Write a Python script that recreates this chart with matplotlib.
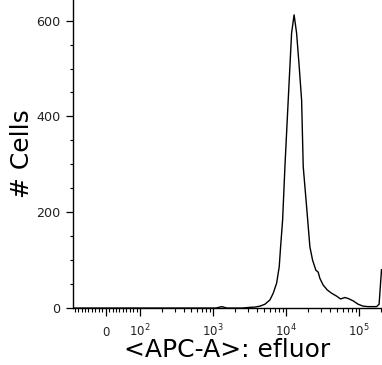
import numpy as np
import matplotlib
matplotlib.use("Agg")
import matplotlib.pyplot as plt
from matplotlib.ticker import FixedLocator, NullFormatter

# Histogram of APC-A (efluor) fluorescence: channel value vs number of cells
fluor = [-95, -50, 0, 50, 100, 300, 700, 1092, 1306, 1545, 2500, 2700, 3190,
         3730, 4370, 5110, 5985, 6640, 7390, 8020, 8380, 8930, 9600, 10650,
         11850, 12820, 13870, 15060, 16250, 17100, 19010, 21090, 22960, 25470,
         27400, 28900, 32070, 36390, 41780, 48870, 55460, 63530, 70470, 82600,
         96600, 113000, 132400, 172600, 187100, 201800]
cells = [0, 0, 0, 0, 0, 0, 0, 0, 3, 0, 0, 0.5, 1.5,
         2, 4, 8, 17, 31, 52, 86, 128, 184, 295, 434,
         574, 612, 574, 504, 434, 295, 212, 128, 100, 79,
         75, 62, 48, 38, 31, 25, 19, 22, 20, 15,
         8, 4, 3, 3, 8, 80]

x_major = [0, 100, 1000, 10000, 100000]
x_major_labels = ["0", "$10^{2}$", "$10^{3}$", "$10^{4}$", "$10^{5}$"]
y_major = [0, 200, 400, 600]

plt.rcParams["font.family"] = ["DejaVu Sans"]
plt.rcParams["mathtext.fontset"] = "dejavusans"

fig = plt.figure(figsize=(3.82, 3.65), dpi=100)
ax = fig.add_axes([0.191, 0.156, 0.809, 0.844])

# biexponential-style axis: linear around zero, logarithmic above 10^2
ax.set_xscale("symlog", linthresh=100, linscale=0.472 * 0.9, base=10)

ax.plot(fluor, cells, color="black", lw=1.0, solid_joinstyle="round")

ax.set_xlim(-95, 2.05e5)
ax.set_ylim(0, 643)

for side in ("top", "right"):
    ax.spines[side].set_visible(False)
for side in ("left", "bottom"):
    ax.spines[side].set_linewidth(1.0)
    ax.spines[side].set_color("black")

# x ticks
x_minor = [-90, -80, -70, -60, -50, -40, -30, -20, -10,
           10, 20, 30, 40, 50, 60, 70, 80, 90]
for dec in (100, 1000, 10000, 100000):
    x_minor += [m * dec for m in range(2, 10)]
ax.xaxis.set_major_locator(FixedLocator(x_major))
ax.set_xticklabels(x_major_labels)
ax.xaxis.set_minor_locator(FixedLocator([v for v in x_minor if v <= 2.05e5]))
ax.xaxis.set_minor_formatter(NullFormatter())

# y ticks: labelled every 200, minor marks every 50
ax.yaxis.set_major_locator(FixedLocator(y_major))
ax.yaxis.set_minor_locator(FixedLocator([v for v in range(50, 650, 50) if v % 200]))

ax.tick_params(axis="x", which="major", direction="out", length=6, width=0.9,
               pad=14.2, labelsize=8.5, colors="black", labelcolor="#222222")
ax.tick_params(axis="x", which="minor", direction="out", length=3, width=0.8)
ax.tick_params(axis="y", which="major", direction="out", length=4.8, width=0.9,
               pad=4.3, labelsize=9.2, colors="black", labelcolor="#222222")
ax.tick_params(axis="y", which="minor", direction="out", length=2.5, width=0.8)
for lbl in ax.get_xticklabels():
    lbl.set_verticalalignment("baseline")

ax.set_xlabel("<APC-A>: efluor", fontsize=18, color="black")
ax.set_ylabel("# Cells", fontsize=18, color="black")
ax.xaxis.set_label_coords(0.5, -0.158)
ax.xaxis.label.set_verticalalignment("baseline")
ax.yaxis.set_label_coords(-0.1414, 0.502)
ax.yaxis.label.set_rotation_mode("anchor")
ax.yaxis.label.set_verticalalignment("baseline")

fig.savefig("out.png", dpi=100)
